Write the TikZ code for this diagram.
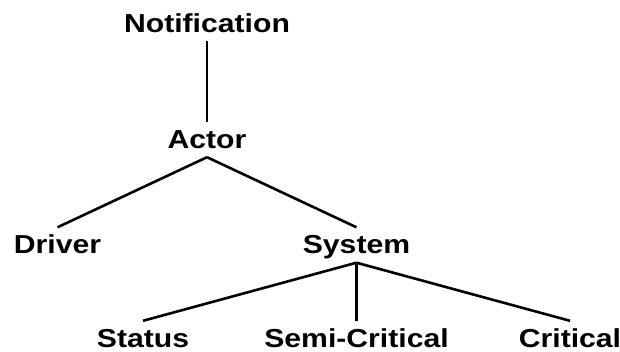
\documentclass[tikz,border=0pt]{standalone}
\usepackage{fontspec}
\setmainfont{Liberation Sans}[FakeStretch=1.16]
\begin{document}
\begin{tikzpicture}[
  x=1pt, y=1pt,
  level 1/.style={level distance=116pt},
  level 2/.style={level distance=105.5pt, sibling distance=299pt},
  level 3/.style={level distance=93.5pt, sibling distance=213.5pt},
  every node/.style={font=\fontsize{26}{31}\selectfont\bfseries, text height=22pt, text depth=5pt, inner xsep=0pt, inner ysep=4pt},
  edge from parent/.style={draw, line width=2.6pt},
  parent anchor=south, child anchor=north
]
\useasboundingbox (0,0) rectangle (620,-351);

\node (notification) at (207,-23.5) {Notification}
  child {node (actor) {Actor}
    child {node (driver) {Driver}}
    child {node (system) {System}
      child {node (status) {Status}}
      child {node (semicritical) {Semi-Critical}}
      child {node (critical) {Critical}}
    }
  };

\end{tikzpicture}
\end{document}
